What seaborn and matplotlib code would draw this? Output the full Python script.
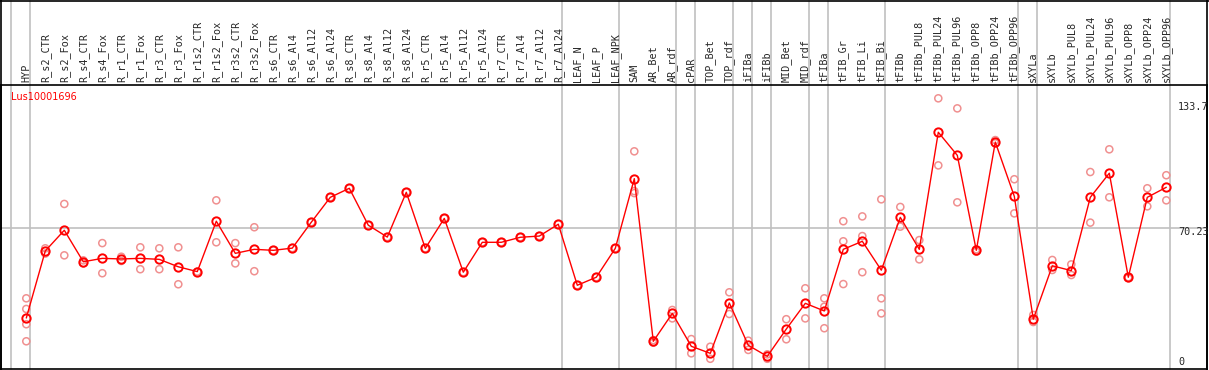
import matplotlib
matplotlib.use("Agg")
import matplotlib.pyplot as plt
import numpy as np
import pandas as pd
import seaborn as sns

gene = "Lus10001696"

categories = [
    "HYP", "R_s2_CTR", "R_s2_Fox", "R_s4_CTR", "R_s4_Fox", "R_r1_CTR", "R_r1_Fox",
    "R_r3_CTR", "R_r3_Fox", "R_r1s2_CTR", "R_r1s2_Fox", "R_r3s2_CTR", "R_r3s2_Fox",
    "R_s6_CTR", "R_s6_Al4", "R_s6_Al12", "R_s6_Al24", "R_s8_CTR", "R_s8_Al4",
    "R_s8_Al12", "R_s8_Al24", "R_r5_CTR", "R_r5_Al4", "R_r5_Al12", "R_r5_Al24",
    "R_r7_CTR", "R_r7_Al4", "R_r7_Al12", "R_r7_Al24", "LEAF_N", "LEAF_P", "LEAF_NPK",
    "SAM", "AR_Bet", "AR_rdf", "cPAR", "TOP_Bet", "TOP_rdf", "iFIBa", "iFIBb",
    "MID_Bet", "MID_rdf", "tFIBa", "tFIB_Gr", "tFIB_Li", "tFIB_Bi", "tFIBb",
    "tFIBb_PUL8", "tFIBb_PUL24", "tFIBb_PUL96", "tFIBb_OPP8", "tFIBb_OPP24",
    "tFIBb_OPP96", "sXYLa", "sXYLb", "sXYLb_PUL8", "sXYLb_PUL24", "sXYLb_PUL96",
    "sXYLb_OPP8", "sXYLb_OPP24", "sXYLb_OPP96",
]

means = [
    25.4, 58.8, 69.1, 53.4, 55.1, 54.8, 55.1, 54.6, 50.9, 48.5,
    73.6, 57.6, 59.6, 59.1, 60.2, 73.1, 85.5, 90.0, 71.6, 65.7,
    88.0, 60.1, 75.0, 48.2, 63.1, 63.1, 65.6, 66.2, 72.1, 41.7,
    45.7, 60.1, 94.8, 13.8, 27.7, 11.3, 7.8, 32.9, 11.8, 6.3,
    19.9, 32.7, 28.9, 59.6, 63.6, 49.2, 75.5, 59.6, 117.9, 106.4,
    59.1, 113.0, 86.0, 24.8, 51.4, 49.0, 85.5, 97.5, 45.7, 85.5, 90.5,
]

replicates = [
    [35.2, 29.9, 22.3, 13.8], [60.1, 57.5], [82.2, 56.6], [52.6, 54.1],
    [62.7, 47.7], [55.9, 53.8], [60.6, 49.7], [60.1, 49.7], [60.6, 42.2],
    [48.5], [84.0, 63.1], [62.7, 52.6], [70.6, 48.7],
    [59.1], [60.2], [73.1], [85.5], [90.0], [71.6], [65.7], [88.0], [60.1],
    [75.0], [48.2], [63.1], [63.1], [65.6], [66.2], [72.1], [41.7], [45.7], [60.1],
    [108.4, 88.6, 87.6], [13.1, 14.4], [29.4, 25.2], [14.9, 7.8], [11.1, 5.1],
    [38.2, 27.4], [14.1, 9.5], [7.3, 5.1], [24.8, 14.8], [40.2, 25.2],
    [35.2, 31.0, 20.3], [73.6, 63.6, 42.3], [76.0, 66.2, 48.2], [84.5, 35.2, 27.7],
    [80.7, 70.9], [64.2, 54.6], [134.8, 101.4], [129.8, 83.0], [58.4, 59.6],
    [114.0, 112.4], [94.5, 77.5], [26.9, 23.4], [54.3, 49.3], [52.1, 46.8],
    [98.1, 72.9], [109.4, 85.5], [45.7, 45.3], [90.0, 81.0], [96.5, 84.0],
]

# group boundaries (gridline drawn just after these columns)
group_ends = [-1, 0, 28, 31, 34, 35, 37, 38, 39, 41, 42, 45, 52, 53, 60]

y_labels = ["133.7", "70.23", "0"]

W, H = 1209, 370
fig = plt.figure(figsize=(W / 100, H / 100), dpi=100)
sns.set_style("white")

# main plot area: x 1..1207 px, y 85..369 px (from top)
ax = fig.add_axes([1 / W, 1 / H, 1206 / W, 284 / H])

x = np.arange(len(categories))
mean_df = pd.DataFrame({"x": x, "value": means})
rep_df = pd.DataFrame(
    [(i, v) for i, reps in enumerate(replicates) for v in reps], columns=["x", "value"]
)

# vertical gridlines spanning header too
for g in group_ends:
    ax.axvline(g + 0.21, ymin=0, ymax=368 / 284, color="#c0c0c0", lw=1.2,
               clip_on=False, zorder=0)
ax.axhline(70.23, color="#c0c0c0", lw=1.2, zorder=0)

sns.scatterplot(data=rep_df, x="x", y="value", ax=ax, marker="o", s=26,
                facecolors="none", edgecolor="#f09090", linewidth=1.1, zorder=2)
sns.lineplot(data=mean_df, x="x", y="value", ax=ax, color="red", lw=1.0,
             marker="o", markersize=6, markerfacecolor="none",
             markeredgecolor="red", markeredgewidth=1.4, zorder=3)

ax.set_xlim((1 - 26.3) / 19, (1207 - 26.3) / 19)
ax.set_ylim(0, 284 / 2.008)
ax.set_xlabel("")
ax.set_ylabel("")
ax.set_yticks([])
ax.xaxis.tick_top()
ax.set_xticks(x)
ax.set_xticklabels(categories, rotation=90, fontfamily="DejaVu Sans Mono",
                   fontsize=7.3, va="bottom", ha="center")
ax.tick_params(axis="x", length=0, pad=2)
for s in ax.spines.values():
    s.set_color("black")
    s.set_linewidth(1.2)

ax.text(10 / 1206, 1 - 12 / 284, gene, transform=ax.transAxes, color="red",
        fontsize=7, ha="left", va="center", fontfamily="DejaVu Sans")

# right-side value labels
label_px = [106.7, 232.3, 361.7]
for lab, py in zip(y_labels, label_px):
    fig.text(1178 / W, 1 - py / H, lab, fontsize=7.3, fontfamily="DejaVu Sans Mono",
             ha="left", va="center")

# outer frame and header divider
fig.add_artist(plt.Line2D([0, 1], [1 - 0.5 / H, 1 - 0.5 / H], color="black", lw=1.2))
fig.add_artist(plt.Line2D([1 / W, 1 / W], [0, 1], color="black", lw=1.2))
fig.add_artist(plt.Line2D([1207 / W, 1207 / W], [0, 1], color="black", lw=1.2))

fig.savefig("out.png", dpi=100)
